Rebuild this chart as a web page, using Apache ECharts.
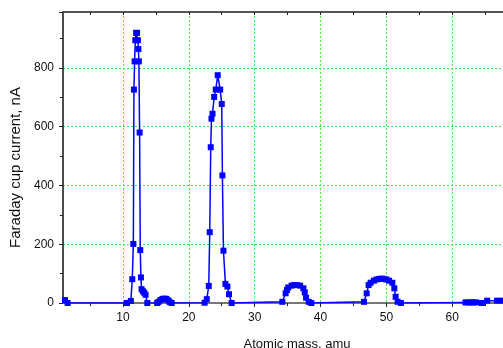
<!DOCTYPE html>
<html>
<head>
<meta charset="utf-8">
<script src="https://cdn.jsdelivr.net/npm/echarts@6/dist/echarts.min.js"></script>
<style>
  html, body { margin: 0; padding: 0; background: #fff; }
  #main { width: 503px; height: 348px; }
</style>
</head>
<body>
<div id="main"></div>
<script>
// mass (amu) and Faraday cup current (nA)
var massValues = [
  1.2, 1.6, 10.6, 11.2, 11.42, 11.58, 11.67, 11.77, 11.88, 12.0, 12.15, 12.27, 12.35, 12.42,
  12.53, 12.63, 12.73, 12.83, 13.03, 13.24, 13.44, 13.7,
  15.2, 15.4, 15.7, 16.0, 16.3, 16.6, 16.9, 17.1, 17.4,
  22.4, 22.73, 23.03, 23.18, 23.33, 23.44, 23.6, 23.85, 24.09, 24.39, 24.76, 25.0, 25.1,
  25.26, 25.56, 25.86, 26.1, 26.5,
  34.2, 34.7, 34.9, 35.1, 35.6, 36.0, 36.4, 36.9, 37.4, 37.6, 37.8, 38.2, 38.6,
  46.6, 47.0, 47.3, 47.6, 48.1, 48.5, 48.9, 49.3, 49.6, 50.0, 50.4, 50.9, 51.2, 51.4, 51.7, 52.2,
  62.0, 62.4, 62.8, 63.2, 63.6, 64.5, 65.3, 66.8, 67.6
];
var currentValues = [
  10, 0, 0, 7, 81, 201, 726, 822, 894, 919, 919, 894, 864, 822,
  580, 180, 87, 47, 40, 35, 28, 0,
  0, 4, 10, 14, 15, 14, 9, 3, 0,
  1, 13, 58, 241, 530, 627, 644, 701, 726, 775, 726, 677, 434,
  178, 65, 56, 30, 0,
  4, 33, 44, 53, 59, 61, 61, 59, 50, 36, 18, 4, 0,
  4, 33, 61, 69, 76, 80, 82, 83, 82, 80, 76, 69, 50, 21, 4, 0,
  2, 2, 2, 2, 2, 0, 8, 8, 8
];
var xLabelValues = [10, 20, 30, 40, 50, 60];
var xMinorValues = [5, 15, 25, 35, 45, 55, 65];
var xTopTickValues = [5, 10, 15, 20, 25, 30, 35, 40, 45, 50, 55, 60, 65];

var xMin = 0.9, xMax = 67.7;
var font = 'Liberation Sans';

var chart = echarts.init(document.getElementById('main'));

var points = massValues.map(function (m, i) { return [m, currentValues[i]]; });

var option = {
  animation: false,
  grid: { left: 63, right: 0, top: 12, bottom: 45, outerBoundsMode: 'none', containLabel: false },
  xAxis: [
    {
      type: 'value', min: xMin, max: xMax, position: 'bottom',
      name: 'Atomic mass, amu', nameLocation: 'middle', nameGap: 35,
      nameTextStyle: { fontFamily: font, fontSize: 13, color: '#111', padding: [0, 0, 0, 28] },
      axisLine: { show: true, onZero: false, lineStyle: { color: '#777', width: 2 } },
      axisTick: { show: true, inside: false, length: 4, customValues: xLabelValues, lineStyle: { color: '#222' } },
      axisLabel: { customValues: xLabelValues, fontFamily: font, fontSize: 12, color: '#111', margin: 9 },
      splitLine: { show: false }
    },
    {
      type: 'value', min: xMin, max: xMax, position: 'bottom',
      axisLine: { show: false },
      axisTick: { show: true, length: 3, customValues: xMinorValues, lineStyle: { color: '#222' } },
      axisLabel: { show: false },
      splitLine: { show: false }
    },
    {
      type: 'value', min: xMin, max: xMax, position: 'top',
      axisLine: { show: true, onZero: false, lineStyle: { color: '#555', width: 2 } },
      axisTick: { show: true, inside: true, length: 3, customValues: xTopTickValues, lineStyle: { color: '#222' } },
      axisLabel: { show: false },
      splitLine: { show: false }
    },
    {
      type: 'value', min: xMin, max: xMax, position: 'bottom',
      axisLine: { show: false },
      axisTick: { show: false, customValues: xLabelValues },
      axisLabel: { show: false, customValues: xLabelValues },
      splitLine: { show: true, lineStyle: { color: '#44ee44', type: [2, 2], width: 1 } }
    }
  ],
  yAxis: {
    type: 'value', min: 0, max: 990, interval: 200,
    name: 'Faraday cup current, nA', nameLocation: 'middle', nameGap: 33,
    nameTextStyle: { fontFamily: font, fontSize: 15, color: '#111', padding: [0, 20, 0, 0] },
    axisLine: { show: true, onZero: false, lineStyle: { color: '#111', width: 1.5 } },
    axisTick: { show: true, length: 4, lineStyle: { color: '#222' } },
    minorTick: { show: true, splitNumber: 2, length: 3, lineStyle: { color: '#222' } },
    axisLabel: { fontFamily: font, fontSize: 12, color: '#111', showMaxLabel: false, margin: 9 },
    splitLine: { show: true, lineStyle: { color: '#44ee44', type: [2, 2], width: 1 } }
  },
  series: [
    {
      type: 'line', data: points, xAxisIndex: 0,
      symbol: 'rect', symbolSize: 6, showAllSymbol: true,
      lineStyle: { color: '#0000ff', width: 1.5 },
      itemStyle: { color: '#0000ff' },
      clip: true, z: 5
    }
  ]
};

chart.setOption(option);
</script>
</body>
</html>
